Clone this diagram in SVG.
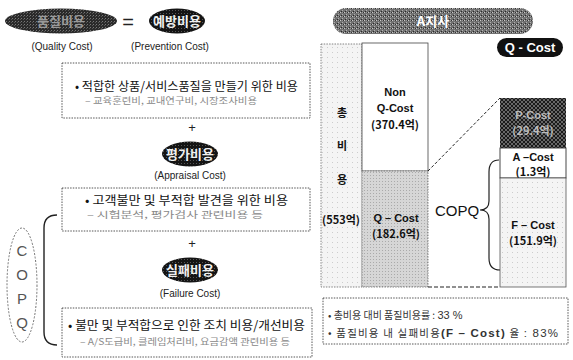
<svg xmlns="http://www.w3.org/2000/svg" width="573" height="360" viewBox="0 0 573 360">
<defs>
<pattern id="dk" width="3" height="3" patternUnits="userSpaceOnUse"><rect width="3" height="3" fill="#141414"/><rect x="1" y="1" width="1" height="1" fill="#555"/></pattern>
<pattern id="dk1" width="3" height="3" patternUnits="userSpaceOnUse"><rect width="3" height="3" fill="#2a2a2a"/><rect x="0" y="0" width="1" height="1" fill="#777"/><rect x="2" y="1" width="1" height="1" fill="#555"/></pattern>
<pattern id="ban" width="4" height="4" patternUnits="userSpaceOnUse"><rect width="4" height="4" fill="#707070"/><rect x="0" y="0" width="1" height="1" fill="#c8c8c8"/><rect x="2" y="2" width="1" height="1" fill="#b0b0b0"/><rect x="3" y="0" width="1" height="1" fill="#333"/><rect x="1" y="3" width="1" height="1" fill="#2a2a2a"/><rect x="2" y="0" width="1" height="1" fill="#999"/></pattern>
<pattern id="xh" width="4" height="4" patternUnits="userSpaceOnUse"><rect width="4" height="4" fill="#1a1a1a"/><path d="M0 0L4 4M4 0L0 4" stroke="#888" stroke-width="0.7"/></pattern>
<pattern id="gq" width="3" height="3" patternUnits="userSpaceOnUse"><rect width="3" height="3" fill="#d6d6d6"/><rect x="1" y="1" width="1" height="1" fill="#aaa"/></pattern>
<pattern id="lt" width="5" height="5" patternUnits="userSpaceOnUse"><rect width="5" height="5" fill="#f4f4f4"/><rect x="2" y="2" width="1" height="1" fill="#ccc"/></pattern>
</defs>
<style>
.k{font-family:"Noto Sans CJK KR","Liberation Sans",sans-serif}
.l{font-family:"Liberation Sans","Noto Sans CJK KR",sans-serif}
.box{fill:none;stroke:#444;stroke-width:0.9;stroke-dasharray:1.5 1.2}
.el{font-size:13px;font-weight:bold;fill:#f0f0f0;text-anchor:middle}
.cap{font-size:10px;fill:#222;text-anchor:middle}
.bul{font-size:12.5px;fill:#111}
.sub{font-size:9px;fill:#888}
.bt{font-size:11px;font-weight:bold;fill:#111;text-anchor:middle}
</style>
<rect width="573" height="360" fill="#fff"/>

<g id="quality-cost">
<ellipse cx="61" cy="21" rx="56" ry="12.5" fill="url(#dk1)"/>
<text x="61" y="26" class="k el" style="fill:#9a9a9a">품질비용</text>
<text x="62" y="50" class="l cap">(Quality Cost)</text>
</g>
<text x="128" y="29" class="l" font-size="20" text-anchor="middle" fill="#222">=</text>

<g id="prevention">
<ellipse cx="177" cy="21" rx="28" ry="12.5" fill="url(#dk)"/>
<text x="177" y="26" class="k el">예방비용</text>
<text x="170" y="50" class="l cap">(Prevention Cost)</text>
<rect x="62" y="63" width="248" height="55" class="box"/>
<text x="75" y="91" class="k bul" textLength="223" lengthAdjust="spacingAndGlyphs">• 적합한 상품/서비스품질을 만들기 위한 비용</text>
<text x="85" y="104" class="k sub" textLength="172" lengthAdjust="spacingAndGlyphs">– 교육훈련비, 교내연구비, 시장조사비용</text>
</g>
<text x="192" y="132" class="l" font-size="13" text-anchor="middle" fill="#222">+</text>

<g id="appraisal">
<ellipse cx="190" cy="154" rx="28" ry="12.5" fill="url(#dk)"/>
<text x="190" y="159" class="k el">평가비용</text>
<text x="190" y="179" class="l cap">(Appraisal Cost)</text>
<rect x="62" y="188" width="248" height="43" class="box"/>
<text x="85" y="205" class="k bul" textLength="203" lengthAdjust="spacingAndGlyphs">• 고객불만 및 부적합 발견을 위한 비용</text>
<text x="87" y="218" class="k sub" textLength="176" lengthAdjust="spacingAndGlyphs">– 시험분석, 평가검사 관련비용 등</text>
</g>
<text x="192" y="248" class="l" font-size="13" text-anchor="middle" fill="#222">+</text>

<g id="failure">
<ellipse cx="190" cy="270" rx="28" ry="12.5" fill="url(#dk)"/>
<text x="190" y="275" class="k el">실패비용</text>
<text x="190" y="297" class="l cap">(Failure Cost)</text>
<rect x="62" y="308" width="250" height="49" class="box"/>
<text x="68" y="330" class="k bul" textLength="237" lengthAdjust="spacingAndGlyphs">• 불만 및 부적합으로 인한 조치 비용/개선비용</text>
<text x="80" y="345" class="k sub" textLength="210" lengthAdjust="spacingAndGlyphs">– A/S도급비, 클레임처리비, 요금감액 관련비용 등</text>
</g>

<g id="copq-left">
<ellipse cx="22" cy="285" rx="15" ry="57" fill="none" stroke="#666" stroke-width="0.9" stroke-dasharray="2 1.5"/>
<g class="l" font-size="15" fill="#555" text-anchor="middle">
<text x="22" y="256">C</text>
<text x="22" y="280">O</text>
<text x="22" y="304">P</text>
<text x="22" y="328">Q</text>
</g>
</g>

<g id="banner">
<rect x="333" y="8" width="200" height="26" rx="13" fill="url(#ban)"/>
<text x="433" y="26" class="k" font-size="13" font-weight="bold" fill="#fff" text-anchor="middle">A지사</text>
</g>

<g id="total">
<rect x="321" y="44" width="41" height="243" fill="url(#lt)" stroke="#666" stroke-width="0.8" stroke-dasharray="1.5 1.2"/>
<text x="342" y="117" class="k bt">총</text>
<text x="342" y="150" class="k bt">비</text>
<text x="342" y="184" class="k bt">용</text>
<text x="341" y="224" class="k bt">(553억)</text>
</g>

<g id="non-q">
<rect x="362" y="43" width="66" height="128" fill="#fff" stroke="#444" stroke-width="0.8"/>
<text x="395" y="96" class="l bt">Non</text>
<text x="395" y="112" class="l bt">Q-Cost</text>
<text x="395" y="129" class="k bt">(370.4억)</text>
</g>

<g id="q-cost">
<rect x="362" y="171" width="66" height="116" fill="url(#gq)" stroke="#666" stroke-width="0.8" stroke-dasharray="1.5 1.2"/>
<text x="396" y="222" class="l bt">Q – Cost</text>
<text x="396" y="238" class="k bt">(182.6억)</text>
</g>

<g id="q-cost-label">
<rect x="497" y="38" width="66" height="19" rx="9.5" fill="#111"/>
<text x="530" y="52" class="l" font-size="13" font-weight="bold" fill="#fff" text-anchor="middle">Q - Cost</text>
</g>

<g id="p-cost">
<rect x="500" y="98" width="66" height="50" fill="url(#xh)"/>
<text x="533" y="119" class="l" font-size="11" font-weight="bold" fill="#bbb" text-anchor="middle">P-Cost</text>
<text x="533" y="135" class="k" font-size="11" font-weight="bold" fill="#bbb" text-anchor="middle">(29.4억)</text>
</g>

<g id="a-cost">
<rect x="500" y="148" width="66" height="30" fill="#fff" stroke="#333" stroke-width="0.9"/>
<text x="533" y="161" class="l bt">A –Cost</text>
<text x="533" y="176" class="k bt">(1.3억)</text>
</g>

<g id="f-cost">
<rect x="500" y="178" width="66" height="109" fill="url(#lt)" stroke="#555" stroke-width="0.8"/>
<text x="533" y="229" class="l bt">F – Cost</text>
<text x="533" y="245" class="k bt">(151.9억)</text>
</g>

<g id="copq-right">
<text x="435" y="216" class="l" font-size="15" fill="#111">COPQ</text>
</g>

<g id="summary">
<rect x="323" y="298" width="245" height="46" class="box"/>
<text x="328" y="319" class="k" font-size="10" fill="#333">• 총비용 대비 품질비용률 : <tspan class="l" font-size="11">33 %</tspan></text>
<text x="328" y="337" class="k" font-size="10.5" fill="#333" textLength="230" lengthAdjust="spacing">• 품질비용 내 실패비용<tspan class="l" font-size="11.5" font-weight="bold">(F – Cost)</tspan> 율 <tspan class="l" font-size="11.5">: 83%</tspan></text>
</g>

<g id="connectors" fill="none" stroke="#222">
<path d="M57 215 Q44 215 44 228 L44 332 Q44 345 57 345" stroke-width="1.4"/>
<path d="M499 160 Q489 160 489 172 L489 201 Q489 210 480 210 Q489 210 489 219 L489 258 Q489 270 500 270" stroke-width="1.2"/>
<path d="M428 171 L500 98" stroke-width="1" stroke-dasharray="3 2"/>
<path d="M428 287 L500 287" stroke-width="1.2" stroke-dasharray="4 2"/>
</g>
</svg>
